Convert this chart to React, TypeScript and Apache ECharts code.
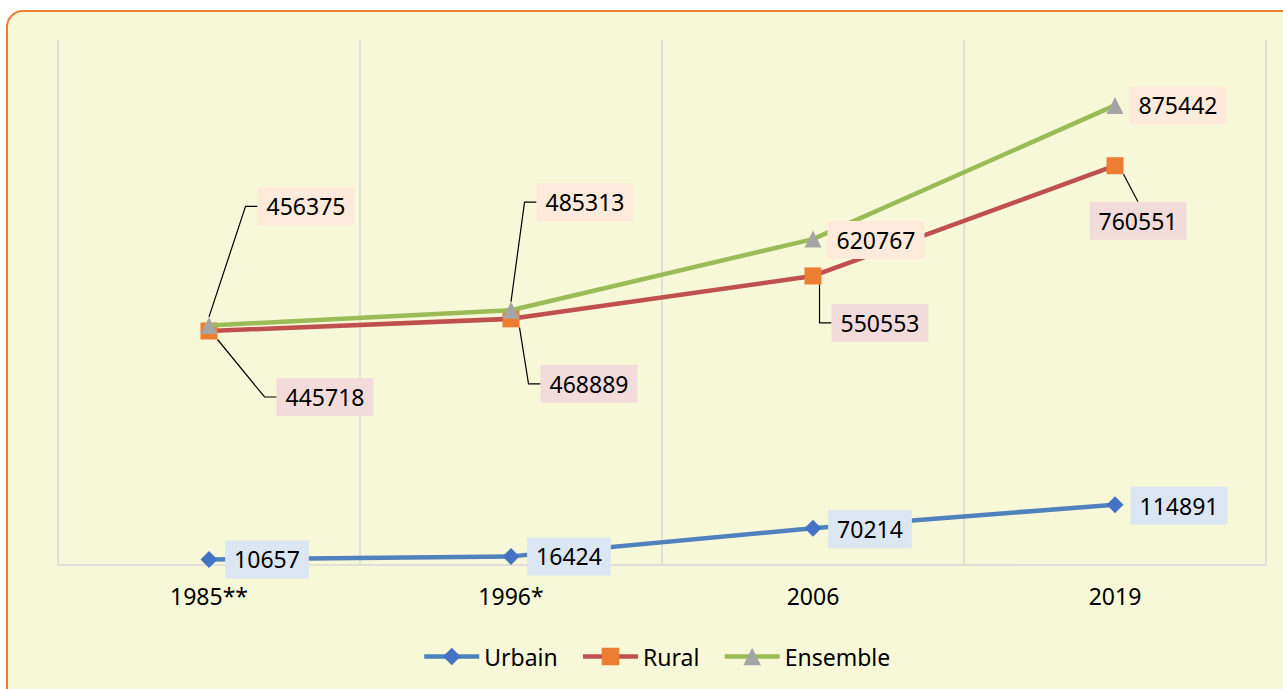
import React, { useEffect, useRef } from "react";
import * as echarts from "echarts";

const categories = ["1985**", "1996*", "2006", "2019"];
const seriesNames = ["Urbain", "Rural", "Ensemble"];
const urbain = [10657, 16424, 70214, 114891];
const rural = [445718, 468889, 550553, 760551];
const ensemble = [456375, 485313, 620767, 875442];

// label offsets (dx, dy from marker centre to label-box centre)
const urbainOffsets = [[58, 0], [58, 0], [57, 1], [64, 1]];
const ruralOffsets = [[116, 66], [78, 65], [67, 47], [23, 55]];
const ensembleOffsets = [[97, -119], [74, -108], [63, 1], [63, 0]];
const ruralLeader = [true, true, true, true];
const ensembleLeader = [true, true, false, false];

const FONT = "'Noto Sans', 'Open Sans', sans-serif";

export default function App() {
  const ref = useRef<HTMLDivElement>(null);
  useEffect(() => {
    if (!ref.current) return;
    const chart = echarts.init(ref.current, null, { renderer: "svg" });
    const offsets = [urbainOffsets, ruralOffsets, ensembleOffsets];
    const labelLayout = (p: any) => {
      const o = offsets[p.seriesIndex][p.dataIndex];
      return {
        x: p.rect.x + p.rect.width / 2 + o[0],
        y: p.rect.y + p.rect.height / 2 + o[1],
        align: "center",
        verticalAlign: "middle",
      };
    };
    const mkLabel = (bg: string) => ({
      show: true,
      position: "right",
      color: "#000",
      fontSize: 23,
      fontFamily: FONT,
      backgroundColor: bg,
      padding: [8, 9, 7, 9],
    });
    const leaderLine = { show: true, length2: 12, lineStyle: { color: "#000", width: 1.2 } };
    chart.setOption({
      animation: false,
      backgroundColor: "#ffffff",
      textStyle: { fontFamily: FONT },
      graphic: [
        {
          type: "rect",
          z: -10,
          silent: true,
          shape: { x: 7, y: 11, width: 1320, height: 720, r: 16 },
          style: { fill: "#F7F8D7", stroke: "#ED7D31", lineWidth: 2 },
        },
      ],
      grid: { left: 58, right: 17, top: 40, bottom: 124, containLabel: false },
      legend: {
        left: 417,
        top: 640,
        itemWidth: 55,
        itemHeight: 22,
        itemGap: 23,
        lineStyle: { width: 4.5 },
        textStyle: { fontSize: 23, color: "#000", fontFamily: FONT },
        data: seriesNames,
      },
      xAxis: {
        type: "category",
        data: categories,
        boundaryGap: true,
        axisLine: { show: true, lineStyle: { color: "#D9D9D9", width: 1.5 } },
        axisTick: { show: false },
        axisLabel: { color: "#000", fontSize: 23, fontFamily: FONT, margin: 19 },
        splitLine: { show: true, lineStyle: { color: "#D9D9D9", width: 1.5 } },
      },
      yAxis: {
        type: "value",
        min: 0,
        max: 1000000,
        axisLine: { show: false },
        axisTick: { show: false },
        axisLabel: { show: false },
        splitLine: { show: false },
      },
      series: [
        {
          name: seriesNames[0],
          type: "line",
          data: urbain,
          symbol: "diamond",
          symbolSize: 17,
          lineStyle: { color: "#4F81BD", width: 4.5 },
          itemStyle: { color: "#4472C4" },
          label: mkLabel("#DCE6F2"),
          labelLayout,
          z: 2,
        },
        {
          name: seriesNames[1],
          type: "line",
          data: rural.map((v, i) => ({
            value: v,
            labelLine: { show: ruralLeader[i], length2: i === 3 ? 0 : 12 },
          })),
          symbol: "rect",
          symbolSize: 17,
          lineStyle: { color: "#C0504D", width: 4.5 },
          itemStyle: { color: "#ED7D31" },
          label: mkLabel("#F2DCDB"),
          labelLine: leaderLine,
          labelLayout,
          z: 3,
        },
        {
          name: seriesNames[2],
          type: "line",
          data: ensemble.map((v, i) => ({
            value: v,
            labelLine: { show: ensembleLeader[i] },
          })),
          symbol: "triangle",
          symbolSize: 17,
          lineStyle: { color: "#9BBB59", width: 4.5 },
          itemStyle: { color: "#A5A5A5" },
          label: mkLabel("#FDEADA"),
          labelLine: leaderLine,
          labelLayout,
          z: 4,
        },
      ],
    });
    return () => chart.dispose();
  }, []);
  return (
    <div
      ref={ref}
      style={{ position: "absolute", left: 0, top: 0, width: 1283, height: 689 }}
    />
  );
}
